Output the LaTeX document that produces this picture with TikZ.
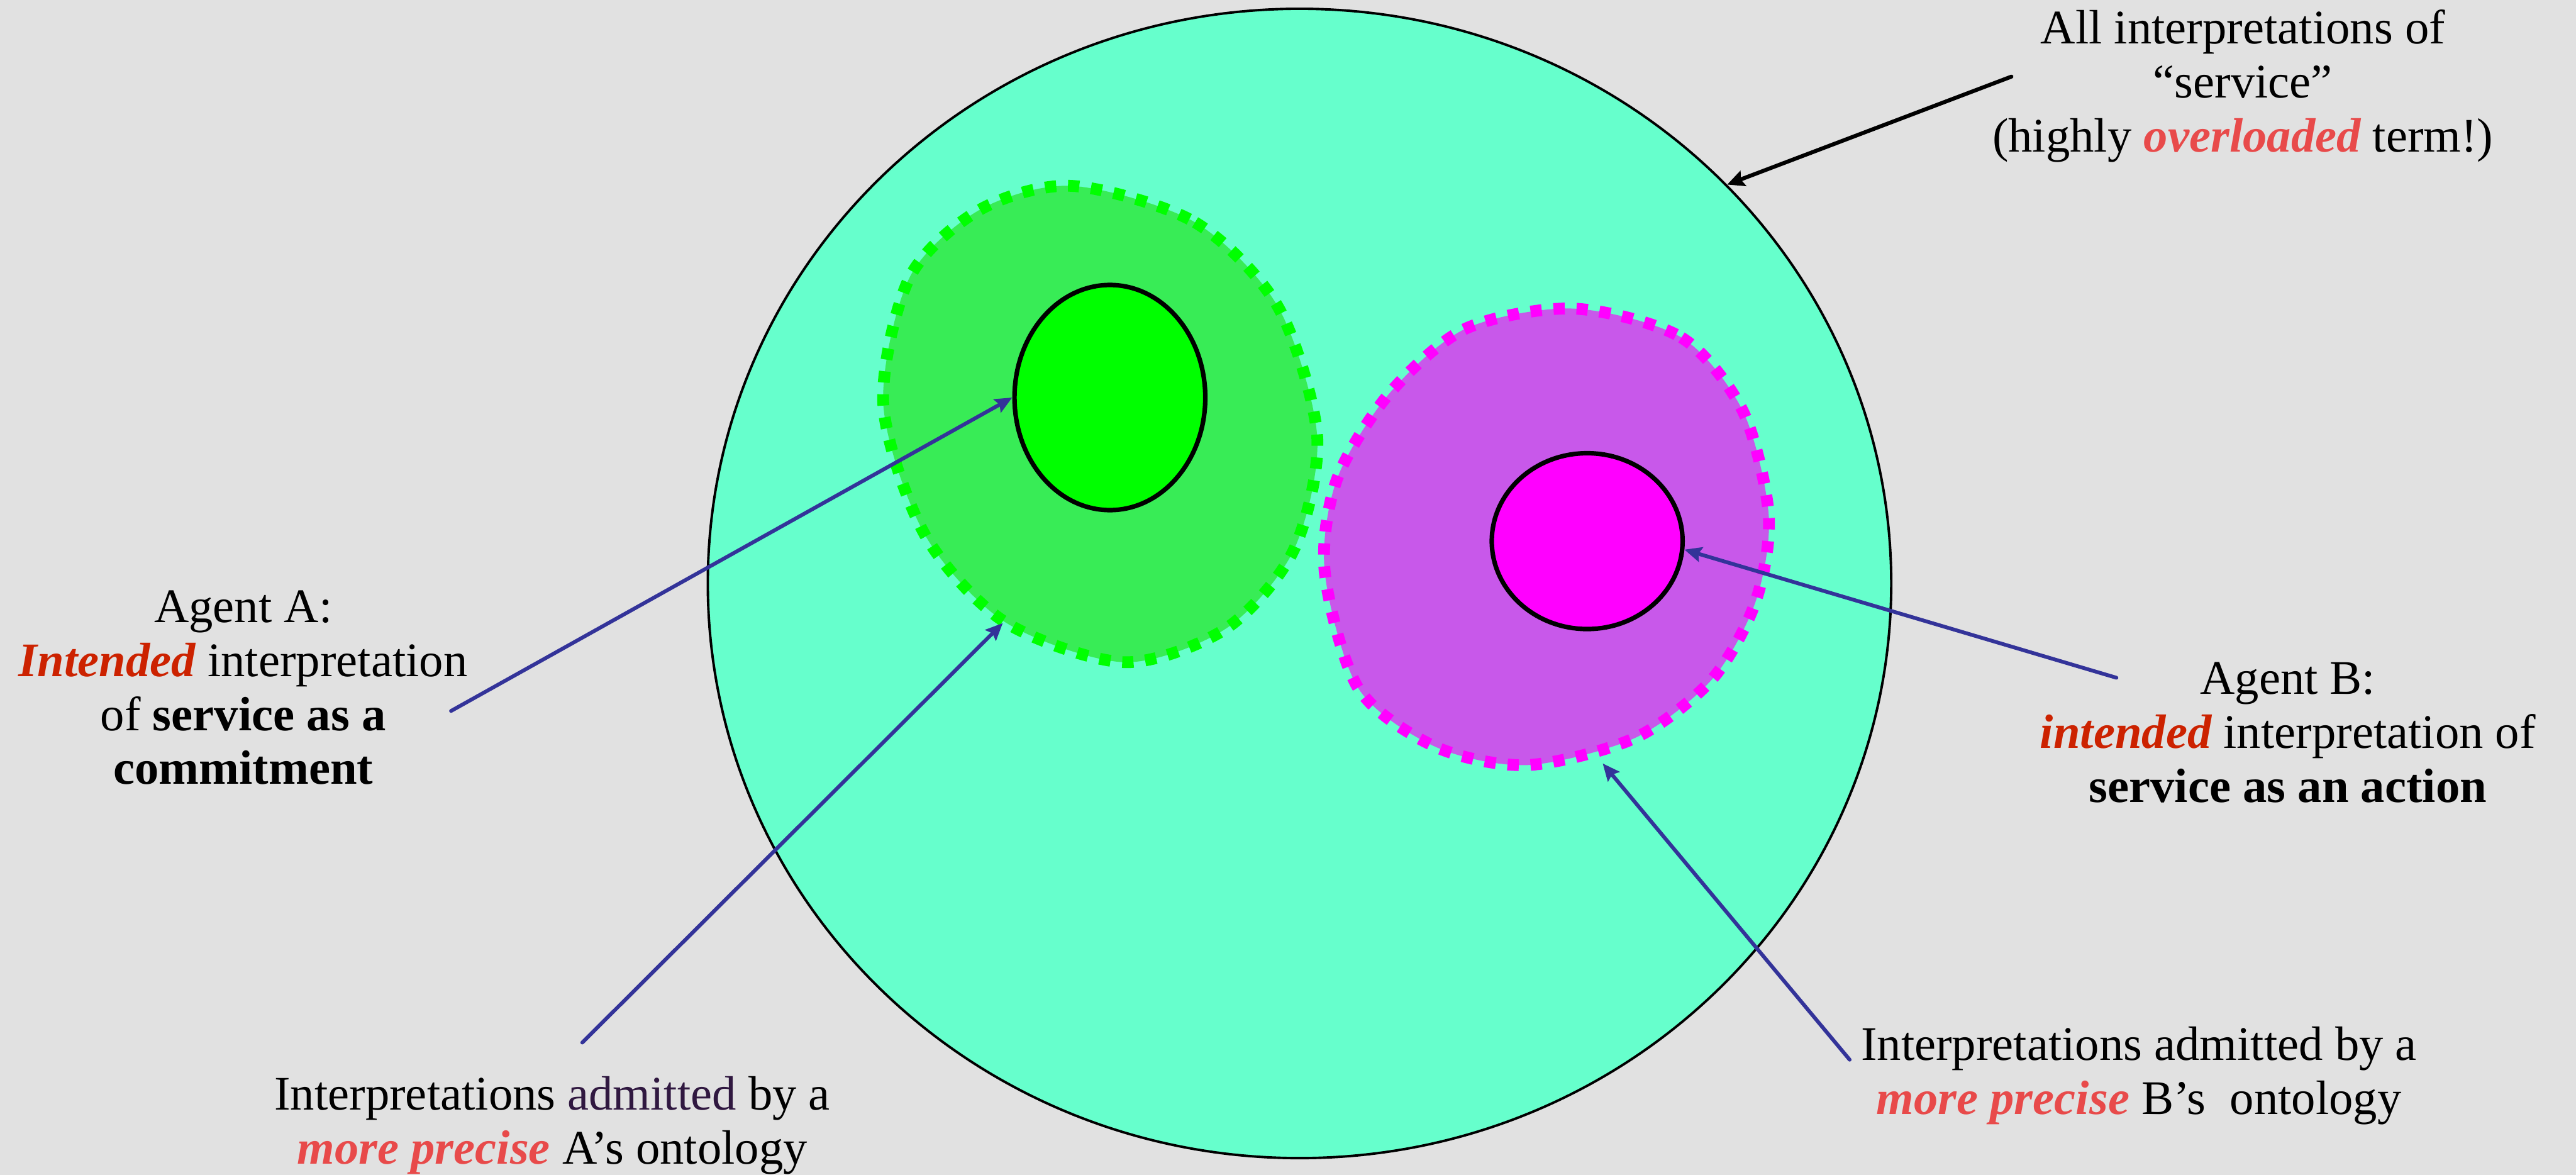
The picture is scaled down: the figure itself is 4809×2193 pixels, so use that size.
\documentclass[tikz,border=0pt]{standalone}
\usepackage{fontspec}
\setmainfont{Liberation Serif}[BoldFont={Liberation Serif Bold}, ItalicFont={Liberation Serif Italic}, BoldItalicFont={Liberation Serif Bold Italic}]
\usetikzlibrary{arrows.meta,shapes.geometric}
\definecolor{bgc}{RGB}{225,225,225}
\definecolor{aqua}{RGB}{102,255,204}
\definecolor{gfill}{RGB}{56,236,86}
\definecolor{gdot}{RGB}{0,255,0}
\definecolor{pfill}{RGB}{200,88,234}
\definecolor{mdot}{RGB}{255,0,255}
\definecolor{arrowblue}{RGB}{51,51,153}
\definecolor{darkred}{RGB}{204,34,0}
\definecolor{lightred}{RGB}{232,74,74}
\definecolor{admit}{RGB}{48,24,64}
\tikzset{
  lbl/.style={font=\fontsize{25.6}{28.7}\selectfont, align=center, inner sep=0pt, anchor=base},
  inner/.style={ellipse, draw=black, line width=2.4pt, inner sep=0pt},
  dotborder/.style={line width=0.22cm, dash pattern=on 0.21cm off 0.22cm, line cap=butt},
  bluearrow/.style={draw=arrowblue, line width=2pt, line cap=round, -{Stealth[length=0.32cm,width=0.28cm,inset=0.05cm]}},
  blackarrow/.style={draw=black, line width=2.1pt, line cap=round, -{Stealth[length=0.32cm,width=0.3cm,inset=0.05cm]}},
}
\newcommand{\emred}[1]{{\bfseries\itshape\color{lightred}#1}}
\newcommand{\emdark}[1]{{\bfseries\itshape\color{darkred}#1}}
\begin{document}
\begin{tikzpicture}[x=0.01cm,y=-0.01cm]
\useasboundingbox (0,0) rectangle (4809,2193);
\fill[bgc] (0,0) rectangle (4809,2193);

% all interpretations
\node[ellipse, draw=black, fill=aqua, line width=1.3pt, inner sep=0pt,
      minimum width=22.08cm, minimum height=21.44cm] (all) at (2426,1089) {};

% A's ontology region
\fill[gfill] plot[smooth cycle] coordinates {(2002,347) (2231,415) (2386,573) (2459,815) (2415,1027) (2289,1173) (2099,1236) (1876,1161) (1726,997) (1649,755) (1698,518) (1830,391)};
\draw[gdot, dotborder] plot[smooth cycle] coordinates {(2002,347) (2231,415) (2386,573) (2459,815) (2415,1027) (2289,1173) (2099,1236) (1876,1161) (1726,997) (1649,755) (1698,518) (1830,391)};
\coordinate (ontAtip) at (1872,1163);

% B's ontology region
\fill[pfill] plot[smooth cycle] coordinates {(2938,576) (3139,630) (3254,768) (3302,963) (3277,1124) (3196,1268) (3053,1377) (2852,1428) (2680,1394) (2536,1285) (2473,1067) (2496,894) (2594,734) (2737,613)};
\draw[mdot, dotborder] plot[smooth cycle] coordinates {(2938,576) (3139,630) (3254,768) (3302,963) (3277,1124) (3196,1268) (3053,1377) (2852,1428) (2680,1394) (2536,1285) (2473,1067) (2496,894) (2594,734) (2737,613)};
\coordinate (ontBtip) at (2992,1425);

% intended interpretations
\node[inner, fill=gdot, minimum width=3.56cm, minimum height=4.2cm] (gA) at (2072,742) {};
\node[inner, fill=mdot, minimum width=3.56cm, minimum height=3.28cm] (mB) at (2963,1010) {};

% labels (anchored at the baseline of the last line)
\node[lbl] (allT) at (4187,283) {All interpretations of\\“service”\\(highly \emred{overloaded} term!)};
\node[lbl] (agentA) at (454,1464) {Agent A:\\\emdark{Intended} interpretation\\of \textbf{service as a}\\\textbf{commitment}};
\node[lbl] (agentB) at (4271,1498) {Agent B:\\\emdark{intended} interpretation of\\\textbf{service as an action}};
\node[lbl] (ontA) at (1031,2173) {Interpretations {\color{admit}admitted} by a\\\emred{more precise} A’s ontology};
\node[lbl] (ontB) at (3993,2080) {Interpretations admitted by a\\\emred{more precise} B’s~ ontology};

% arrow start points
\coordinate (allS) at (3755,143);
\coordinate (agentAS) at (842,1327);
\coordinate (agentBS) at (3951,1265);
\coordinate (ontAS) at (1087,1946);
\coordinate (ontBS) at (3453,1978);

% connectors
\draw[blackarrow] (allS) -- (all.43);
\draw[bluearrow] (agentAS) -- (gA.west);
\draw[bluearrow] (agentBS) -- (mB.-5);
\draw[bluearrow] (ontAS) -- (ontAtip);
\draw[bluearrow] (ontBS) -- (ontBtip);
\end{tikzpicture}
\end{document}
